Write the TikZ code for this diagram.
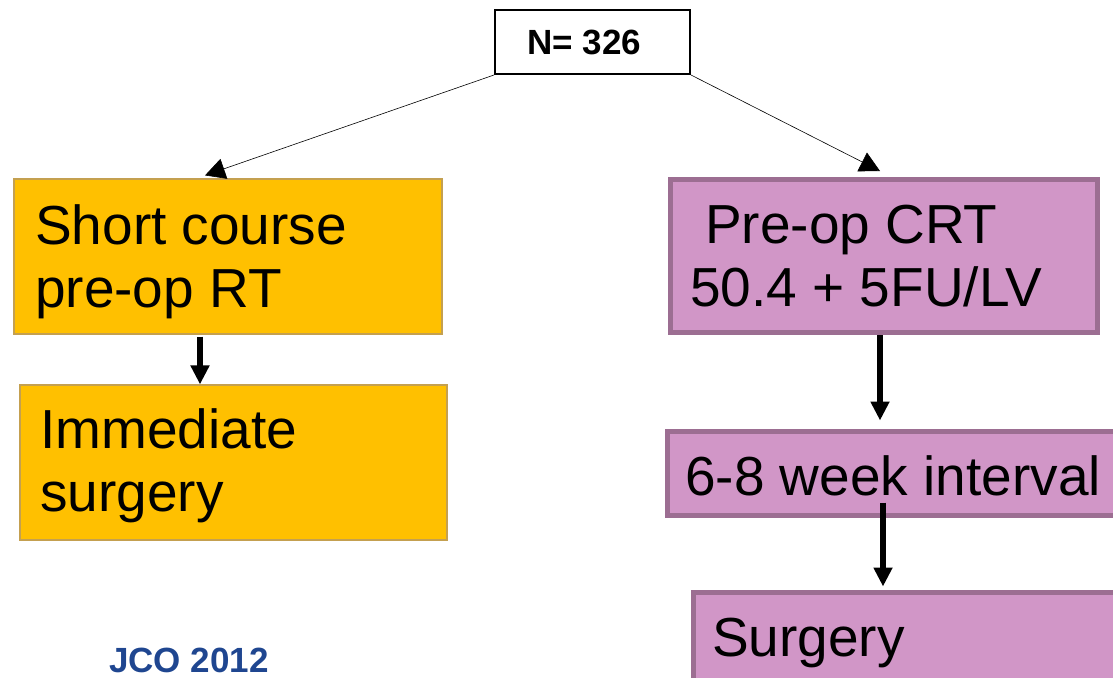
\documentclass[tikz,border=0pt]{standalone}
\usepackage{fontspec}
\setmainfont{Liberation Sans}
\usetikzlibrary{arrows.meta}

\definecolor{rtorange}{RGB}{255,192,0}
\definecolor{rtedge}{RGB}{196,160,80}
\definecolor{crtpink}{RGB}{209,150,199}
\definecolor{crtedge}{RGB}{156,110,146}
\definecolor{refblue}{RGB}{31,70,144}

\tikzset{
  rtbox/.style={draw=rtedge, fill=rtorange, line width=1.2pt, rectangle, inner sep=0pt},
  crtbox/.style={draw=crtedge, fill=crtpink, line width=5pt, rectangle, inner sep=0pt},
  bigtext/.style={anchor=base west, inner sep=0pt, align=left, font=\fontsize{55}{63}\selectfont},
  splitarrow/.style={draw=black, line width=0.6pt, -{Triangle[length=20pt,width=21pt]}},
  steparrow/.style={draw=black, line width=5.5pt, -{Triangle[length=19pt,width=18pt]}}
}

\begin{document}
\begin{tikzpicture}[x=1pt,y=-1pt]
  \useasboundingbox (0,0) rectangle (1113,677);
  \clip (0,0) rectangle (1113,677);

  % start box
  \node[draw=black, fill=white, line width=2pt, rectangle, inner sep=0pt,
        minimum width=195pt, minimum height=64pt] (total) at (592.5,42) {};
  \node[anchor=base west, inner sep=0pt, font=\fontsize{35}{40}\selectfont\bfseries] (totaltext) at (527,55) {N= 326};

  % short course arm (base anchor sits on the last line)
  \node[rtbox, minimum width=428pt, minimum height=155pt] (short) at (228,256.5) {};
  \node[bigtext] (shorttext) at (35,307) {Short course\\pre-op RT};
  \node[rtbox, minimum width=427pt, minimum height=155pt] (immediate) at (233.5,462.5) {};
  \node[bigtext] (immediatetext) at (40,511) {Immediate\\surgery};

  % long course arm
  \node[crtbox, minimum width=427pt, minimum height=153pt] (crt) at (884,256) {};
  \node[bigtext] (crttext) at (690,306) {\hspace*{15pt}Pre-op CRT\\50.4 + 5FU/LV};
  \node[crtbox, minimum width=457pt, minimum height=84pt] (interval) at (896,473) {};
  \node[bigtext] (intervaltext) at (685,495) {6-8 week interval};
  \node[crtbox, minimum width=432pt, minimum height=108pt] (surgery) at (909,646) {};
  \node[bigtext] (surgerytext) at (712,656) {Surgery};

  \node[anchor=base west, inner sep=0pt, text=refblue, font=\fontsize{35}{40}\selectfont\bfseries] (source) at (109,672) {JCO 2012};

  \draw[splitarrow] (total.south west) -- ([xshift=-23pt,yshift=3pt]short.north);
  \draw[splitarrow] (total.south east) -- ([xshift=-4pt,yshift=6pt]crt.north);

  \draw[steparrow] ([xshift=-28pt,yshift=-2pt]short.south) -- ([xshift=-28pt]short.south |- immediate.north);
  \draw[steparrow, shorten >=8pt] ([xshift=-4pt]crt.south) -- ([xshift=-4pt]crt.south |- interval.north);
  \draw[steparrow, shorten >=3pt] ([xshift=-13pt,yshift=15pt]interval.south) -- ([xshift=-13pt]interval.south |- surgery.north);
\end{tikzpicture}
\end{document}
